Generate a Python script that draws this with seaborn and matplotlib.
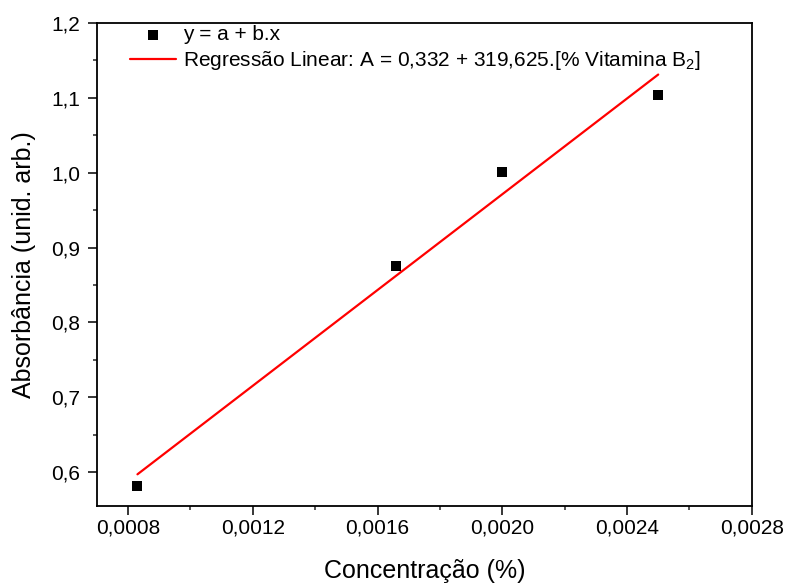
import numpy as np
import pandas as pd
import matplotlib
matplotlib.use("Agg")
import matplotlib.pyplot as plt
from matplotlib.ticker import MultipleLocator, FuncFormatter
import seaborn as sns

# data
conc = [0.00083, 0.00166, 0.00200, 0.00250]
absorb = [0.582, 0.876, 1.001, 1.104]
intercept = 0.332
slope = 319.625
line_x = [0.00083, 0.00250]

sns.set_theme(style="ticks")
plt.rcParams['font.family'] = ['Liberation Sans', 'DejaVu Sans']
plt.rcParams['mathtext.fontset'] = 'custom'
plt.rcParams['mathtext.rm'] = 'Liberation Sans'
plt.rcParams['text.color'] = 'black'
plt.rcParams['axes.labelcolor'] = 'black'

df = pd.DataFrame({"x": conc, "y": absorb})
fit = pd.DataFrame({"x": line_x, "y": [intercept + slope * v for v in line_x]})

fig = plt.figure(figsize=(7.88, 5.88), dpi=100)
ax = fig.add_axes([0.123, 0.1395, 0.831, 0.8215])

sns.scatterplot(data=df, x="x", y="y", marker="s", s=62, color="black",
                edgecolor="black", linewidth=0, ax=ax, label="y = a + b.x", zorder=3)
sns.lineplot(data=fit, x="x", y="y", color="red", linewidth=1.6, ax=ax,
             label="Regressão Linear: A = 0,332 + 319,625.[% Vitamina B$_2$]")

ax.set_xlim(0.0007, 0.0028)
ax.set_ylim(0.555, 1.2)
ax.xaxis.set_major_locator(MultipleLocator(0.0004))
ax.xaxis.set_minor_locator(MultipleLocator(0.0002))
ax.yaxis.set_major_locator(MultipleLocator(0.1))
ax.yaxis.set_minor_locator(MultipleLocator(0.05))
ax.xaxis.set_major_formatter(FuncFormatter(lambda v, p: f"{v:.4f}".replace(".", ",")))
ax.yaxis.set_major_formatter(FuncFormatter(lambda v, p: f"{v:.1f}".replace(".", ",")))

ax.tick_params(which="major", direction="out", length=6.3, width=1.1, labelsize=15, colors="black")
ax.tick_params(which="minor", direction="out", length=3.2, width=1.1)
ax.tick_params(axis="x", which="major", pad=2.5)
ax.tick_params(axis="y", which="major", pad=5.5)
ax.tick_params(top=False, right=False)
for s in ax.spines.values():
    s.set_linewidth(1.3)
    s.set_color("black")
    s.set_visible(True)

ax.set_xlabel("Concentração (%)", fontsize=18, labelpad=16)
ax.set_ylabel("Absorbância (unid. arb.)", fontsize=18, labelpad=11)

ax.legend(loc="upper left", bbox_to_anchor=(0.031, 1.021), frameon=False, fontsize=15,
          handlelength=2.2, handletextpad=0.35, labelspacing=0.22, borderaxespad=0.2)

fig.savefig("out.png", dpi=100)
